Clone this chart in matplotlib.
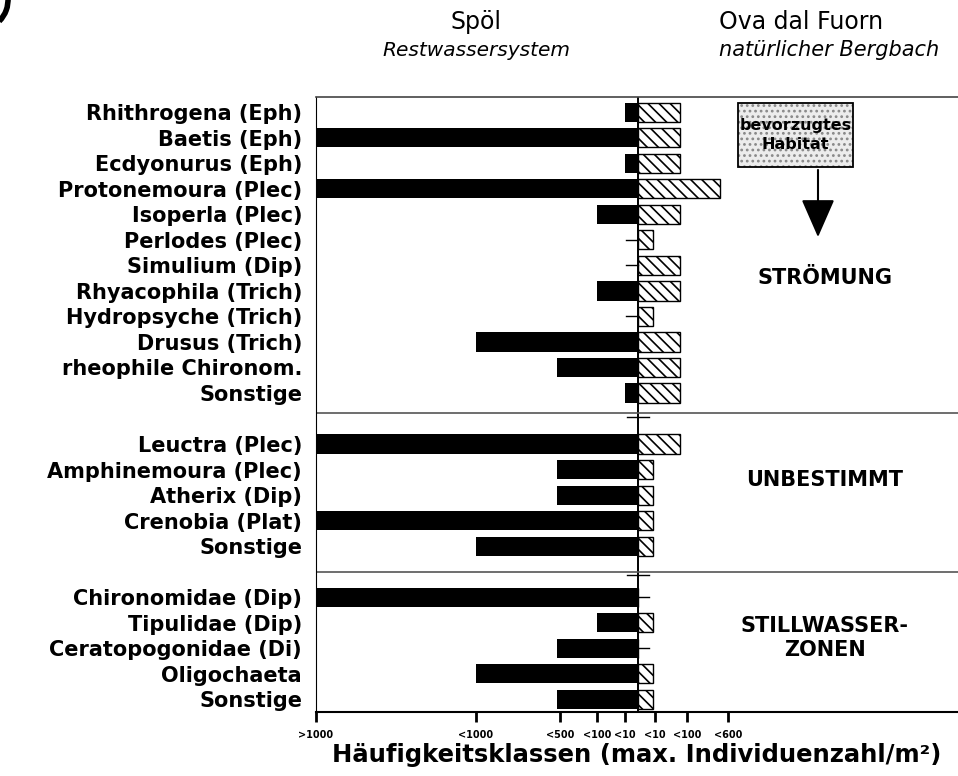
import matplotlib.pyplot as plt
from matplotlib.patches import Arc, Rectangle
from matplotlib.transforms import IdentityTransform

# Taxa, Häufigkeitsklassen Spöl (links) und Ova dal Fuorn (rechts)
taxa = ['Rhithrogena (Eph)', 'Baetis (Eph)', 'Ecdyonurus (Eph)', 'Protonemoura (Plec)',
        'Isoperla (Plec)', 'Perlodes (Plec)', 'Simulium (Dip)', 'Rhyacophila (Trich)',
        'Hydropsyche (Trich)', 'Drusus (Trich)', 'rheophile Chironom.', 'Sonstige',
        'Leuctra (Plec)', 'Amphinemoura (Plec)', 'Atherix (Dip)', 'Crenobia (Plat)', 'Sonstige',
        'Chironomidae (Dip)', 'Tipulidae (Dip)', 'Ceratopogonidae (Di)', 'Oligochaeta', 'Sonstige']
spoel = [1, 5, 1, 5, 2, 0, 0, 2, 0, 4, 3, 1,
         5, 3, 3, 5, 4,
         5, 2, 3, 4, 3]
ova = [2, 2, 2, 3, 2, 1, 2, 2, 1, 2, 2, 2,
       2, 1, 1, 1, 1,
       0, 1, 0, 1, 1]
gruppe = [0] * 12 + [1] * 5 + [2] * 5
gruppen_namen = ['STRÖMUNG', 'UNBESTIMMT', 'STILLWASSER-\nZONEN']
gruppen_y = [6.5, 14.4, 20.6]

# Achsenlage der Klassen (nicht linear)
klasse_links = [0, 13, 41, 81, 162, 322]
klasse_rechts = [0, 15, 42, 82]
tick_pos = [-322, -162, -78, -41, -13, 17, 49, 90]
tick_lab = ['>1000', '<1000', '<500', '<100', '<10', '<10', '<100', '<600']

plt.rcParams['font.family'] = ['DejaVu Sans']
plt.rcParams['hatch.linewidth'] = 1.2

fig = plt.figure(figsize=(9.58, 7.76), dpi=100)
ax = fig.add_axes([316 / 958, 1 - 712 / 776, 642 / 958, 615 / 776])

y = [i + g for i, g in enumerate(gruppe)]
links = [-klasse_links[k] for k in spoel]
rechts = [klasse_rechts[k] for k in ova]

ax.barh(y, links, height=0.75, color='black')
ax.barh(y, rechts, height=0.75, color='white', edgecolor='black', hatch='\\\\\\', linewidth=1)

# kleine Striche für fehlende Taxa
for yi, k in zip(y, spoel):
    if k == 0:
        ax.plot([-12, 0], [yi, yi], color='black', lw=1)
for yi, k in zip(y, ova):
    if k == 0:
        ax.plot([0, 11], [yi, yi], color='black', lw=1)

ax.axvline(0, color='black', lw=1.4)
for s in [11.8, 18]:
    ax.axhline(s, color='#555555', lw=1.2)
    ax.plot([-11, 11], [s + 0.15, s + 0.15], color='black', lw=1)

ax.set_xlim(-322, 320)
ax.set_ylim(23.5, -0.6)

ax.set_yticks(y, taxa)
ax.tick_params(axis='y', length=0, pad=10, labelsize=15)
for t in ax.get_yticklabels():
    t.set_fontweight('bold')

ax.set_xticks(tick_pos, tick_lab)
ax.tick_params(axis='x', direction='out', length=7, width=2, labelsize=7, pad=6)
for t in ax.get_xticklabels():
    t.set_fontweight('bold')

ax.spines['right'].set_visible(False)
ax.spines['top'].set_color('#444444')
ax.spines['top'].set_linewidth(1.2)
ax.spines['left'].set_linewidth(0.8)
ax.spines['bottom'].set_linewidth(1.5)

ax.set_xlabel('Häufigkeitsklassen (max. Individuenzahl/m²)', fontsize=17.5,
              fontweight='bold', labelpad=2)

for name, gy in zip(gruppen_namen, gruppen_y):
    ax.text(187, gy, name, ha='center', va='center', fontsize=15,
            fontweight='bold', linespacing=1.3)

# Kasten "bevorzugtes Habitat" mit Punktraster
ax.add_patch(Rectangle((100, -0.35), 115, 2.5, facecolor='#ececec', edgecolor='#888888',
                       lw=0, hatch='...', zorder=3))
ax.add_patch(Rectangle((100, -0.35), 115, 2.5, fill=False, edgecolor='black', lw=1.3, zorder=4))
ax.text(157.5, 0.9, 'bevorzugtes\nHabitat', ha='center', va='center', fontsize=11.5,
        fontweight='bold', linespacing=1.3, zorder=5)
ax.annotate('', xy=(180, 5.0), xytext=(180, 2.15),
            arrowprops=dict(arrowstyle='-|>,head_length=0.8,head_width=0.35',
                            mutation_scale=30, lw=1.5, color='black'))

fig.text(476 / 958, 1 - 22 / 776, 'Spöl', ha='center', va='center', fontsize=17)
fig.text(476 / 958, 1 - 50 / 776, 'Restwassersystem', ha='center', va='center',
         fontsize=14.5, style='italic')
fig.text(801 / 958, 1 - 22 / 776, 'Ova dal Fuorn', ha='center', va='center', fontsize=17)
fig.text(829 / 958, 1 - 50 / 776, 'natürlicher Bergbach', ha='center', va='center',
         fontsize=15, style='italic')

# Rest eines Kreises oben links
fig.add_artist(Arc((-22, 776), 60, 60, theta1=-45, theta2=5, lw=4, color='black',
                   transform=IdentityTransform()))

fig.savefig('out.png', dpi=100)
